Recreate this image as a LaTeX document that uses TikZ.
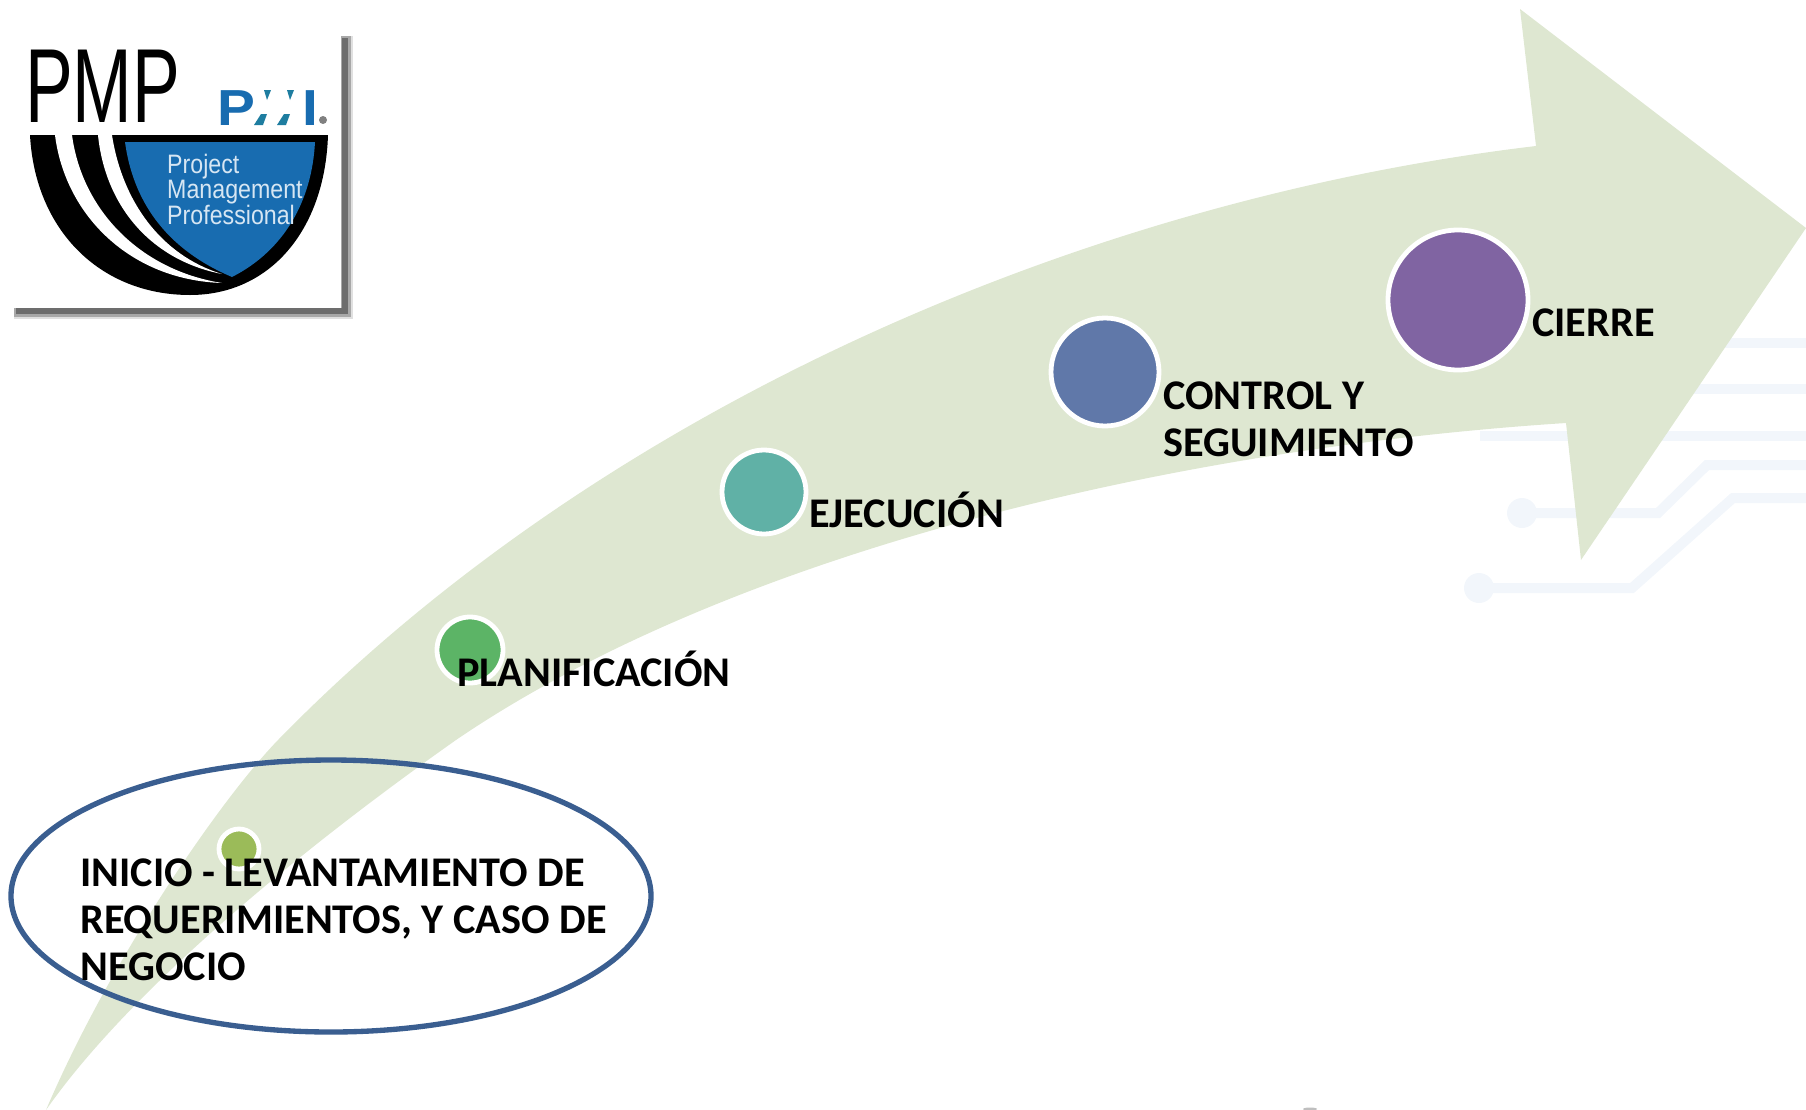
\documentclass[tikz,border=0pt]{standalone}
\usepackage{fontspec}
\setmainfont{Carlito}
\newfontfamily\logofont{Liberation Sans}
\definecolor{arrowgreen}{RGB}{222,231,209}
\definecolor{traceblue}{RGB}{242,246,251}
\definecolor{ringblue}{RGB}{58,94,144}
\definecolor{pmiblue}{RGB}{24,108,176}
\definecolor{pmiteal}{RGB}{30,125,160}
\tikzset{
  stagedot/.style={draw=white,line width=3.6pt},
  steplabel/.style={anchor=base west,inner sep=0pt,align=left,font=\fontsize{31.7}{35}\selectfont\bfseries},
  trace/.style={draw=traceblue,line width=7.5pt},
  cardshadow/.style={draw=black,line cap=butt},
}

\begin{document}
\begin{tikzpicture}[x=0.75pt,y=0.75pt,yscale=-1,xscale=1]
\useasboundingbox (0,0) rectangle (1806,1110);

%Circuit traces behind the arrow
\draw [trace] (1480,436) -- (1806,436) ;
\draw [trace] (1600,389) -- (1806,389) ;
\draw [trace] (1650,343) -- (1806,343) ;
\draw [trace] (1522,513) -- (1658,513) -- (1707,465) -- (1806,465) ;
\draw [trace] (1479,588) -- (1632,588) -- (1733,498) -- (1806,498) ;
\fill [traceblue] (1522,513) circle (15) (1479,588) circle (15) ;
\fill [gray!50] (1310,1109) ellipse (7 and 1.5) ;

%Shape: Curved arrow
\fill [arrowgreen] (46,1110) .. controls (110,960) and (220,800) .. (278,740) .. controls (600,410) and (1080,200) .. (1536,146) -- (1520,9) -- (1806,228) -- (1581,560) -- (1566,423) .. controls (1150,450) and (720,560) .. (456,740) .. controls (300,850) and (130,990) .. (46,1110) -- cycle ;

%Stage dots
\filldraw [stagedot,fill={rgb,255:red,155;green,187;blue,89}] (239,849) circle (20) ;
\filldraw [stagedot,fill={rgb,255:red,92;green,180;blue,102}] (470,650) circle (33) ;
\filldraw [stagedot,fill={rgb,255:red,96;green,177;blue,166}] (764,492) circle (42) ;
\filldraw [stagedot,fill={rgb,255:red,96;green,120;blue,169}] (1105,372) circle (54) ;
\filldraw [stagedot,fill={rgb,255:red,128;green,100;blue,162}] (1458,300) circle (70) ;

%Shape: Ellipse
\draw [draw=ringblue,line width=4pt] (331,896) ellipse (320 and 136) ;

% Text Node
\node [steplabel] (inicio) at (80,980) {INICIO - LEVANTAMIENTO DE\\REQUERIMIENTOS, Y CASO DE\\NEGOCIO};
% Text Node
\node [steplabel] (planificacion) at (457,686) {PLANIFICACIÓN};
% Text Node
\node [steplabel] (ejecucion) at (809,527) {EJECUCIÓN};
% Text Node
\node [steplabel] (control) at (1163,456) {CONTROL Y\\SEGUIMIENTO};
% Text Node
\node [steplabel] (cierre) at (1532,336) {CIERRE};

%Logo: card with shadow
\draw [cardshadow,line width=10.5pt,opacity=0.12] (14,312) -- (346,312) -- (346,36) ;
\draw [cardshadow,line width=7pt,opacity=0.25] (14,312) -- (346,312) -- (346,36) ;
\draw [cardshadow,line width=4pt,opacity=0.35] (16,311) -- (345,311) -- (345,38) ;
\fill [white] (12,32) rectangle (341,308) ;

%Logo: shield
\fill [black] (30,135) -- (328,135) .. controls (325,230) and (270,295) .. (190,295) .. controls (100,295) and (35,230) .. (30,135) -- cycle ;
\fill [white] (55,135) -- (72,135) .. controls (82,210) and (140,270) .. (222,283) .. controls (130,280) and (65,215) .. (55,135) -- cycle ;
\fill [white] (98,135) -- (112,135) .. controls (122,200) and (160,255) .. (222,274) .. controls (150,260) and (105,205) .. (98,135) -- cycle ;
\fill [pmiblue] (125,142) -- (315,142) .. controls (312,200) and (285,250) .. (232,277) .. controls (180,255) and (135,215) .. (125,142) -- cycle ;

% Text Node
\node [anchor=base west,inner sep=0pt,xscale=0.68,font=\logofont\fontsize{79}{79}\selectfont] (pmp) at (25,122) {PMP};
% Text Node
\node [anchor=base west,inner sep=0pt,xscale=1.12,text=pmiblue,font=\logofont\fontsize{38}{38}\selectfont\bfseries] (pmi) at (217,125) {PMI};
\fill [white] (253,86) rectangle (300,128) ;
\fill [pmiteal] (254,125) -- (263,125) -- (267,114) -- (261,114) -- cycle (277,125) -- (286,125) -- (290,114) -- (284,114) -- cycle (264,90) -- (271,90) -- (267,100) -- cycle (287,90) -- (294,90) -- (290,100) -- cycle ;
\fill [gray] (323,120) circle (4) ;
% Text Node
\node [anchor=base west,inner sep=0pt,xscale=0.87,align=left,text={rgb,255:red,214;green,230;blue,243},font=\logofont\fontsize{20}{19}\selectfont] (pmpname) at (167,224) {Project\\Management\\Professional};

\end{tikzpicture}
\end{document}
